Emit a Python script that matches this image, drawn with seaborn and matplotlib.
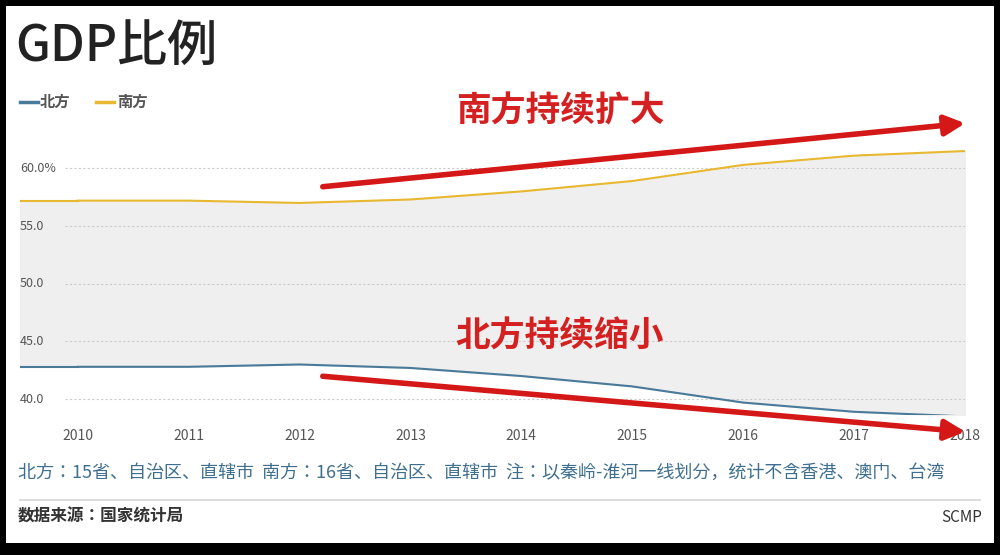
import matplotlib
matplotlib.use("Agg")
import matplotlib.pyplot as plt
from matplotlib import font_manager
import seaborn as sns
import pandas as pd
from matplotlib.patches import Rectangle
from matplotlib.transforms import blended_transform_factory

cjk = [f.name for f in font_manager.fontManager.ttflist if "CJK" in f.name]
pref = [n for n in ["Noto Sans CJK SC", "Noto Sans CJK JP", "Noto Sans CJK TC", "Noto Sans CJK KR"] if n in cjk] or cjk[:1]
plt.rcParams["font.family"] = "sans-serif"
plt.rcParams["font.sans-serif"] = pref + ["DejaVu Sans"]

years = [2010, 2011, 2012, 2013, 2014, 2015, 2016, 2017, 2018]
south = [57.2, 57.2, 57.0, 57.3, 58.0, 58.9, 60.3, 61.1, 61.5]
north = [42.8, 42.8, 43.0, 42.7, 42.0, 41.1, 39.7, 38.9, 38.5]
yticks = [40, 45, 50, 55, 60]
ytick_labels = ["40.0", "45.0", "50.0", "55.0", "60.0%"]

df = pd.DataFrame({"year": years * 2, "value": north + south,
                   "region": ["北方"] * 9 + ["南方"] * 9})

fig = plt.figure(figsize=(10, 5.55), dpi=100)
fig.patch.set_facecolor("black")
fig.add_artist(Rectangle((0.006, 0.022), 0.988, 0.968, transform=fig.transFigure,
                         facecolor="white", edgecolor="none", zorder=0))

ax = fig.add_axes([0.02, 0.252, 0.945, 0.495])
ax.set_facecolor("none")
x0 = 2009.48
ax.fill_between([x0] + years, [north[0]] + north, [south[0]] + south, color="#efefef", zorder=1)
ax.plot([x0, years[0]], [south[0]] * 2, color="#e8b830", lw=1.5, zorder=3)
ax.plot([x0, years[0]], [north[0]] * 2, color="#4a7a9a", lw=1.5, zorder=3)
sns.lineplot(data=df, x="year", y="value", hue="region",
             palette={"北方": "#4a7a9a", "南方": "#e8b830"}, lw=1.5, ax=ax, legend=False, zorder=3)
ax.set_xlim(x0, 2018)
ax.set_ylim(38.61, 62.42)
for s in ax.spines.values():
    s.set_visible(False)
ax.set_yticks([])
ax.set_xticks(years)
ax.set_xticklabels([str(y) for y in years], fontsize=10, color="#555555")
ax.tick_params(axis="x", length=0, pad=10)
ax.set_xlabel("")
ax.set_ylabel("")
tr = blended_transform_factory(ax.transAxes, ax.transData)
for v, lab in zip(yticks, ytick_labels):
    ax.axhline(v, xmin=0.048, xmax=1, color="#cccccc", lw=0.8, ls=(0, (2, 2)), zorder=2)
    ax.text(0.0, v, lab, transform=tr, ha="left", va="center", fontsize=9, color="#555555")

fig.text(0.015, 0.915, "GDP比例", fontsize=36, color="#222222", va="center", ha="left", fontweight="medium")
fig.add_artist(plt.Line2D([0.02, 0.038], [0.817] * 2, color="#4a7a9a", lw=2.5, transform=fig.transFigure))
fig.text(0.040, 0.817, "北方", fontsize=11, color="#555555", va="center", fontweight="bold")
fig.add_artist(plt.Line2D([0.096, 0.114], [0.817] * 2, color="#e8b830", lw=2.5, transform=fig.transFigure))
fig.text(0.117, 0.817, "南方", fontsize=11, color="#555555", va="center", fontweight="bold")

fig.text(0.56, 0.80, "南方持续扩大", fontsize=25, color="#d42020", ha="center", va="center", fontweight="bold")
fig.text(0.56, 0.395, "北方持续缩小", fontsize=25, color="#d42020", ha="center", va="center", fontweight="bold")
ax.annotate("", xy=(0.968, 1 - 123 / 555), xytext=(0.32, 1 - 187 / 555),
            xycoords="figure fraction", textcoords="figure fraction",
            arrowprops=dict(arrowstyle="-|>,head_length=1.2,head_width=0.6", color="#d41818", lw=4))
ax.annotate("", xy=(0.968, 1 - 432 / 555), xytext=(0.32, 1 - 376 / 555),
            xycoords="figure fraction", textcoords="figure fraction",
            arrowprops=dict(arrowstyle="-|>,head_length=1.2,head_width=0.6", color="#d41818", lw=4))

fig.text(0.018, 1 - 473 / 555, "北方：15省、自治区、直辖市  南方：16省、自治区、直辖市  注：以秦岭-淮河一线划分，统计不含香港、澳门、台湾",
         fontsize=13.0, color="#3f6f8f", va="center", ha="left")
fig.add_artist(plt.Line2D([0.02, 0.98], [1 - 500 / 555] * 2, color="#dddddd", lw=1.5, transform=fig.transFigure))
fig.text(0.018, 1 - 517 / 555, "数据来源：国家统计局", fontsize=12, color="#333333", va="center", fontweight="bold")
fig.text(0.982, 1 - 517 / 555, "SCMP", fontsize=11, color="#333333", va="center", ha="right")

fig.savefig("out.png", dpi=100)
